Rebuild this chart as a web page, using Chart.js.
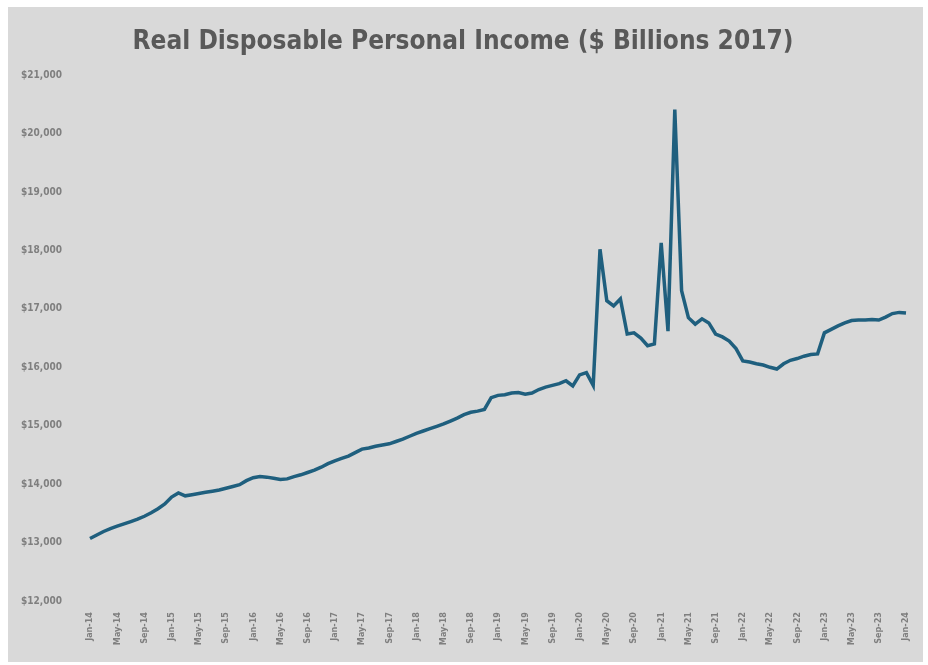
<!DOCTYPE html>
<html>
<head>
<meta charset="utf-8">
<script src="https://cdn.jsdelivr.net/npm/chart.js@4.4.1/dist/chart.umd.min.js"></script>
<style>
  html, body { margin: 0; padding: 0; background: #ffffff; }
  #wrap { position: absolute; left: 8px; top: 7px; width: 915px; height: 655px; background: #d9d9d9; }
</style>
</head>
<body>
<div id="wrap"><canvas id="rdpi"></canvas></div>
<script>
// Monthly labels Jan-14 .. Jan-24
const months = ['Jan', 'Feb', 'Mar', 'Apr', 'May', 'Jun', 'Jul', 'Aug', 'Sep', 'Oct', 'Nov', 'Dec'];
const labels = [];
for (let y = 14; y <= 24; y++) {
    for (let m = 0; m < 12; m++) {
        if (y === 24 && m > 0) break;
        labels.push(months[m] + '-' + y);
    }
}

// Real disposable personal income, $ billions (chained 2017)
const income2014 = [13070, 13130, 13190, 13240, 13280, 13320, 13360, 13400, 13450, 13510, 13580, 13660];
const income2015 = [13780, 13850, 13800, 13820, 13840, 13860, 13880, 13900, 13930, 13960, 13990, 14060];
const income2016 = [14110, 14130, 14120, 14100, 14080, 14090, 14130, 14160, 14200, 14240, 14290, 14350];
const income2017 = [14400, 14440, 14480, 14540, 14600, 14620, 14650, 14670, 14690, 14730, 14770, 14820];
const income2018 = [14870, 14910, 14950, 14990, 15030, 15080, 15130, 15190, 15230, 15250, 15280, 15480];
const income2019 = [15520, 15530, 15560, 15570, 15540, 15560, 15620, 15660, 15690, 15720, 15770, 15680];
const income2020 = [15870, 15910, 15690, 18020, 17140, 17050, 17170, 16570, 16590, 16500, 16370, 16400];
const income2021 = [18130, 16620, 20410, 17310, 16850, 16740, 16830, 16760, 16570, 16520, 16450, 16320];
const income2022 = [16110, 16090, 16060, 16040, 16000, 15970, 16060, 16120, 16150, 16190, 16220, 16230];
const income2023 = [16590, 16650, 16710, 16760, 16800, 16810, 16810, 16820, 16810, 16860, 16920, 16940];
const income2024 = [16930];

const income = [].concat(income2014, income2015, income2016, income2017, income2018,
    income2019, income2020, income2021, income2022, income2023, income2024);

const tickFont = { family: '"DejaVu Sans Condensed", "Liberation Sans", sans-serif', size: 9, weight: 'bold' };

const ctx = document.getElementById('rdpi').getContext('2d');
new Chart(ctx, {
    type: 'line',
    data: {
        labels: labels,
        datasets: [{
            data: income,
            borderColor: '#1f5f7e',
            borderWidth: 3.5,
            pointRadius: 0,
            tension: 0,
            fill: false
        }]
    },
    options: {
        responsive: true,
        maintainAspectRatio: false,
        animation: false,
        layout: { padding: { left: 12, right: 17, top: 0, bottom: 0 } },
        plugins: {
            legend: { display: false },
            tooltip: { enabled: false },
            title: {
                display: true,
                text: 'Real Disposable Personal Income ($ Billions 2017)',
                color: '#595959',
                font: { family: '"DejaVu Sans Condensed", "Liberation Sans", sans-serif', size: 26, weight: 'bold' },
                padding: { top: 20, bottom: 17 }
            }
        },
        scales: {
            x: {
                grid: { display: false },
                border: { display: false },
                ticks: {
                    autoSkip: false,
                    minRotation: 90,
                    maxRotation: 90,
                    color: '#7f7f7f',
                    font: tickFont,
                    callback: function (value, index) {
                        return index % 4 === 0 ? this.getLabelForValue(value) : '';
                    }
                },
                afterFit: function (axis) { axis.height = 61; }
            },
            y: {
                min: 12000,
                max: 21000,
                grid: { display: false },
                border: { display: false },
                ticks: {
                    stepSize: 1000,
                    color: '#7f7f7f',
                    font: { family: '"DejaVu Sans Condensed", "Liberation Sans", sans-serif', size: 10, weight: 'bold' },
                    padding: 20,
                    callback: v => '$' + v.toLocaleString('en-US')
                },
                afterFit: function (axis) { axis.width = 70; }
            }
        }
    }
});
</script>
</body>
</html>
